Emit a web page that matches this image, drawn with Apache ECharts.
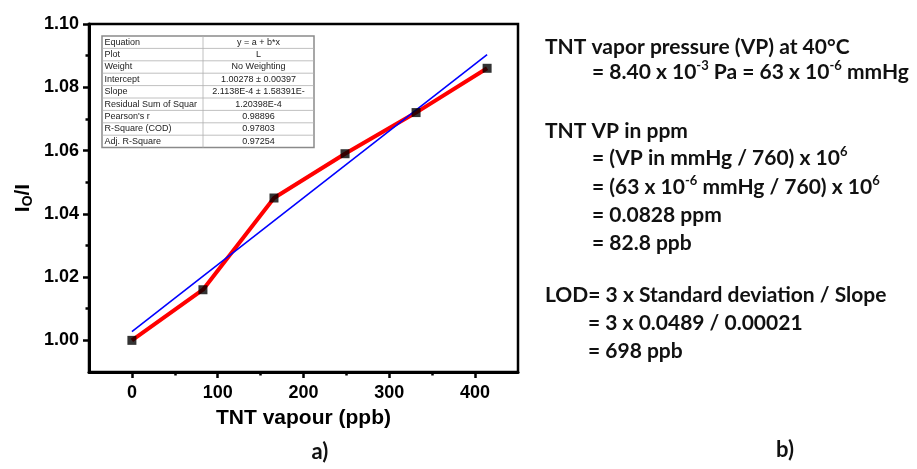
<!DOCTYPE html>
<html>
<head>
<meta charset="utf-8">
<script src="https://cdn.jsdelivr.net/npm/echarts@6/dist/echarts.min.js"></script>
<style>
  html, body { margin: 0; padding: 0; background: #fff; }
  #chart { width: 917px; height: 469px; }
</style>
</head>
<body>
<div id="chart"></div>
<script>
// Quenching response I0/I versus TNT vapour concentration
const tntPpb = [0, 82.8, 165.6, 248.4, 331.2, 414];
const ratio = [1.000, 1.016, 1.045, 1.059, 1.072, 1.086];

// Linear fit y = a + b*x
const fitIntercept = 1.00278;
const fitSlope = 2.1138e-4;
const fitRange = [0, 414];

const xTicks = [0, 100, 200, 300, 400];
const xMinorTicks = [50, 150, 250, 350];
const yTicks = [1.00, 1.02, 1.04, 1.06, 1.08, 1.10];
const yMinorTicks = [1.01, 1.03, 1.05, 1.07, 1.09];

// Fit report
const fitLabels = ['Equation', 'Plot', 'Weight', 'Intercept', 'Slope',
  'Residual Sum of Squar', "Pearson's r", 'R-Square (COD)', 'Adj. R-Square'];
const fitValues = ['y = a + b*x', 'L', 'No Weighting', '1.00278 \u00b1 0.00397',
  '2.1138E-4 \u00b1 1.58391E-', '1.20398E-4', '0.98896', '0.97803', '0.97254'];

// Calculation notes (segments: [text, isSuperscript])
const notes = [
  [['TNT vapor pressure (VP) at 40\u00b0C', 0]],
  [['= 8.40 x 10', 0], ['-3', 1], [' Pa = 63 x 10', 0], ['-6', 1], [' mmHg', 0]],
  [['TNT VP in ppm', 0]],
  [['= (VP in mmHg / 760) x 10', 0], ['6', 1]],
  [['= (63 x 10', 0], ['-6', 1], [' mmHg / 760) x 10', 0], ['6', 1]],
  [['= 0.0828 ppm', 0]],
  [['= 82.8 ppb', 0]],
  [['LOD= 3 x Standard deviation / Slope', 0]],
  [['= 3 x 0.0489 / 0.00021', 0]],
  [['= 698 ppb', 0]]
];
const panelLabels = ['a)', 'b)'];

const fitLine = fitRange.map(x => [x, fitIntercept + fitSlope * x]);

const axisFont = '"Liberation Sans", Arial, sans-serif';
const noteFont = 'Lato, "Open Sans", sans-serif';

// ---- layout of graphic elements ----
const notePos = [
  [545, 47], [592, 72], [545, 131], [592, 158], [592, 187],
  [592, 215], [592, 243], [545, 295], [588, 323], [588, 351]
];

function richString(segs) {
  return segs.map(s => '{' + (s[1] ? 's' : 'n') + '|' + s[0] + '}').join('');
}

const graphics = [];

// fit report table
const tX0 = 102, tX1 = 203, tX2 = 314, tY0 = 36, rowH = 12.4;
const tH = rowH * fitLabels.length;
graphics.push({
  type: 'rect', z: 20,
  shape: { x: tX0, y: tY0, width: tX2 - tX0, height: tH },
  style: { fill: '#fff', stroke: '#8a8a8a', lineWidth: 1.5 }
});
for (let i = 1; i < fitLabels.length; i++) {
  graphics.push({
    type: 'line', z: 21,
    shape: { x1: tX0, y1: tY0 + i * rowH, x2: tX2, y2: tY0 + i * rowH },
    style: { stroke: '#b0b0b0', lineWidth: 0.8 }
  });
}
graphics.push({
  type: 'line', z: 21,
  shape: { x1: tX1, y1: tY0, x2: tX1, y2: tY0 + tH },
  style: { stroke: '#b0b0b0', lineWidth: 0.8 }
});
fitLabels.forEach((t, i) => {
  graphics.push({
    type: 'text', z: 22, x: tX0 + 2.5, y: tY0 + (i + 0.5) * rowH,
    style: { text: t, fill: '#222', font: '9px ' + axisFont, verticalAlign: 'middle', align: 'left' }
  });
  graphics.push({
    type: 'text', z: 22, x: (tX1 + tX2) / 2, y: tY0 + (i + 0.5) * rowH,
    style: { text: fitValues[i], fill: '#222', font: '9px ' + axisFont, verticalAlign: 'middle', align: 'center' }
  });
});

// calculation notes
const noteRich = {
  n: { fontFamily: noteFont, fontWeight: 'bold', fontSize: 21, lineHeight: 26, verticalAlign: 'middle', fill: '#111' },
  s: { fontFamily: noteFont, fontWeight: 'bold', fontSize: 13, lineHeight: 13, verticalAlign: 'top', fill: '#111' }
};
notes.forEach((segs, i) => {
  graphics.push({
    type: 'text', x: notePos[i][0], y: notePos[i][1],
    style: { text: richString(segs), rich: noteRich, verticalAlign: 'middle', align: 'left', fill: '#111' }
  });
});

// panel labels
graphics.push({
  type: 'text', x: 320, y: 452,
  style: { text: panelLabels[0], fill: '#111', font: 'bold 22px ' + noteFont, align: 'center', verticalAlign: 'middle' }
});
graphics.push({
  type: 'text', x: 785, y: 450,
  style: { text: panelLabels[1], fill: '#111', font: 'bold 22px ' + noteFont, align: 'center', verticalAlign: 'middle' }
});

const chart = echarts.init(document.getElementById('chart'), null, { renderer: 'canvas' });

const tickLabelStyle = { color: '#000', fontWeight: 'bold', fontSize: 18, fontFamily: axisFont };

chart.setOption({
  animation: false,
  backgroundColor: '#fff',
  grid: {
    left: 89, top: 24, right: 399, bottom: 97,
    show: true, borderColor: '#000', borderWidth: 2.5, backgroundColor: 'transparent'
  },
  xAxis: [
    {
      type: 'value', min: -50, max: 450, interval: 50, position: 'bottom',
      axisLine: { show: true, onZero: false, lineStyle: { color: '#000', width: 3 } },
      axisTick: { show: true, inside: false, length: 6, lineStyle: { color: '#000', width: 2.5 }, customValues: xTicks },
      axisLabel: Object.assign({ margin: 12, customValues: xTicks }, tickLabelStyle),
      splitLine: { show: false },
      name: 'TNT vapour (ppb)', nameLocation: 'middle', nameGap: 36,
      nameTextStyle: { color: '#000', fontWeight: 'bold', fontSize: 21, fontFamily: axisFont }
    },
    {
      type: 'value', min: -50, max: 450, interval: 50, position: 'bottom', offset: 0,
      axisLine: { show: false, onZero: false },
      axisTick: { show: true, inside: false, length: 3.5, lineStyle: { color: '#000', width: 2.5 }, customValues: xMinorTicks },
      axisLabel: { show: false },
      splitLine: { show: false }
    }
  ],
  yAxis: [
    {
      type: 'value', min: 0.99, max: 1.10, position: 'left',
      axisLine: { show: true, onZero: false, lineStyle: { color: '#000', width: 3 } },
      axisTick: { show: true, inside: false, length: 6, lineStyle: { color: '#000', width: 2.5 }, customValues: yTicks },
      axisLabel: Object.assign({ margin: 10, customValues: yTicks, formatter: v => v.toFixed(2) }, tickLabelStyle),
      splitLine: { show: false },
      name: '{n|I}{s|O}{n|/I}', nameLocation: 'middle', nameGap: 54, nameRotate: 90,
      nameTextStyle: {
        color: '#000',
        rich: {
          n: { fontWeight: 'bold', fontSize: 21, fontFamily: axisFont, color: '#000', lineHeight: 24, verticalAlign: 'middle' },
          s: { fontWeight: 'bold', fontSize: 14, fontFamily: axisFont, color: '#000', lineHeight: 14, verticalAlign: 'bottom' }
        }
      }
    },
    {
      type: 'value', min: 0.99, max: 1.10, position: 'left', offset: 0,
      axisLine: { show: false, onZero: false },
      axisTick: { show: true, inside: false, length: 3.5, lineStyle: { color: '#000', width: 2.5 }, customValues: yMinorTicks },
      axisLabel: { show: false },
      splitLine: { show: false }
    }
  ],
  series: [
    {
      name: 'data', type: 'line', z: 2,
      data: tntPpb.map((x, i) => [x, ratio[i]]),
      symbol: 'none',
      lineStyle: { color: '#ff0000', width: 4 }
    },
    {
      name: 'fit', type: 'line', z: 3,
      data: fitLine,
      symbol: 'none',
      lineStyle: { color: '#0000ff', width: 1.6 }
    },
    {
      name: 'points', type: 'scatter', z: 4,
      data: tntPpb.map((x, i) => [x, ratio[i]]),
      symbol: 'rect', symbolSize: 9,
      itemStyle: { color: '#000' }
    }
  ],
  graphic: graphics
});
</script>
</body>
</html>
